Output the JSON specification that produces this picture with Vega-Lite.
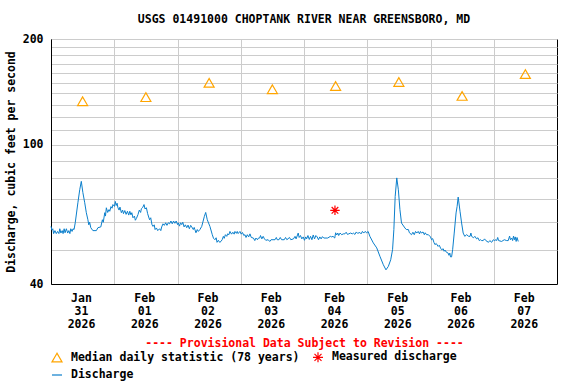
{
  "$schema": "https://vega.github.io/schema/vega-lite/v6.json",
  "width": 506,
  "height": 245,
  "autosize": "none",
  "padding": {"left": 51, "top": 39, "right": 19, "bottom": 100},
  "background": "white",
  "config": {
    "font": "DejaVu Sans Mono",
    "view": {"stroke": "black", "strokeWidth": 1}
  },
  "title": {
    "text": "USGS 01491000 CHOPTANK RIVER NEAR GREENSBORO, MD",
    "anchor": "middle",
    "fontSize": 11.5,
    "fontWeight": "bold",
    "font": "DejaVu Sans Mono",
    "color": "black",
    "offset": 8
  },
  "datasets": {
    "discharge": [
      {"t": "2026-01-31T00:00", "q": 58.4},
      {"t": "2026-01-31T00:20", "q": 57.0},
      {"t": "2026-01-31T00:40", "q": 57.5},
      {"t": "2026-01-31T01:00", "q": 55.7},
      {"t": "2026-01-31T01:30", "q": 56.8},
      {"t": "2026-01-31T02:00", "q": 55.7},
      {"t": "2026-01-31T02:30", "q": 56.5},
      {"t": "2026-01-31T03:00", "q": 55.7},
      {"t": "2026-01-31T03:20", "q": 57.5},
      {"t": "2026-01-31T03:45", "q": 55.9},
      {"t": "2026-01-31T04:15", "q": 56.8},
      {"t": "2026-01-31T04:35", "q": 55.7},
      {"t": "2026-01-31T05:00", "q": 57.5},
      {"t": "2026-01-31T05:20", "q": 56.0},
      {"t": "2026-01-31T05:50", "q": 57.5},
      {"t": "2026-01-31T06:20", "q": 55.9},
      {"t": "2026-01-31T06:45", "q": 56.8},
      {"t": "2026-01-31T07:10", "q": 55.7},
      {"t": "2026-01-31T07:30", "q": 57.5},
      {"t": "2026-01-31T08:00", "q": 56.5},
      {"t": "2026-01-31T08:21", "q": 57.5},
      {"t": "2026-01-31T08:45", "q": 57.2},
      {"t": "2026-01-31T09:12", "q": 59.8},
      {"t": "2026-01-31T10:12", "q": 68.2},
      {"t": "2026-01-31T10:54", "q": 74.3},
      {"t": "2026-01-31T11:30", "q": 78.5},
      {"t": "2026-01-31T12:06", "q": 72.9},
      {"t": "2026-01-31T12:48", "q": 68.2},
      {"t": "2026-01-31T13:24", "q": 63.9},
      {"t": "2026-01-31T14:00", "q": 61.0},
      {"t": "2026-01-31T14:20", "q": 59.0},
      {"t": "2026-01-31T14:40", "q": 60.0},
      {"t": "2026-01-31T15:06", "q": 57.9},
      {"t": "2026-01-31T15:54", "q": 56.8},
      {"t": "2026-01-31T17:12", "q": 56.8},
      {"t": "2026-01-31T17:48", "q": 57.9},
      {"t": "2026-01-31T18:54", "q": 58.2},
      {"t": "2026-01-31T19:30", "q": 61.0},
      {"t": "2026-01-31T19:50", "q": 60.0},
      {"t": "2026-01-31T20:24", "q": 63.9},
      {"t": "2026-01-31T20:40", "q": 62.5},
      {"t": "2026-01-31T21:00", "q": 66.0},
      {"t": "2026-01-31T21:30", "q": 64.0},
      {"t": "2026-01-31T22:00", "q": 65.2},
      {"t": "2026-01-31T22:18", "q": 64.5},
      {"t": "2026-01-31T22:45", "q": 66.5},
      {"t": "2026-01-31T23:10", "q": 65.8},
      {"t": "2026-01-31T23:30", "q": 67.4},
      {"t": "2026-02-01T00:05", "q": 66.6},
      {"t": "2026-02-01T00:24", "q": 68.8},
      {"t": "2026-02-01T00:45", "q": 67.0},
      {"t": "2026-02-01T01:05", "q": 68.0},
      {"t": "2026-02-01T01:24", "q": 66.0},
      {"t": "2026-02-01T01:50", "q": 65.0},
      {"t": "2026-02-01T02:10", "q": 66.3},
      {"t": "2026-02-01T02:42", "q": 63.9},
      {"t": "2026-02-01T03:10", "q": 65.0},
      {"t": "2026-02-01T03:30", "q": 63.5},
      {"t": "2026-02-01T04:00", "q": 64.8},
      {"t": "2026-02-01T04:30", "q": 63.2},
      {"t": "2026-02-01T05:00", "q": 64.5},
      {"t": "2026-02-01T05:30", "q": 62.9},
      {"t": "2026-02-01T05:54", "q": 64.5},
      {"t": "2026-02-01T06:20", "q": 63.0},
      {"t": "2026-02-01T06:40", "q": 63.9},
      {"t": "2026-02-01T07:06", "q": 61.8},
      {"t": "2026-02-01T07:40", "q": 62.5},
      {"t": "2026-02-01T08:00", "q": 60.8},
      {"t": "2026-02-01T08:24", "q": 61.5},
      {"t": "2026-02-01T09:00", "q": 63.1},
      {"t": "2026-02-01T09:30", "q": 65.0},
      {"t": "2026-02-01T10:00", "q": 64.0},
      {"t": "2026-02-01T10:18", "q": 65.6},
      {"t": "2026-02-01T10:50", "q": 66.2},
      {"t": "2026-02-01T11:18", "q": 67.4},
      {"t": "2026-02-01T11:40", "q": 65.5},
      {"t": "2026-02-01T12:12", "q": 66.0},
      {"t": "2026-02-01T12:40", "q": 63.5},
      {"t": "2026-02-01T13:24", "q": 61.0},
      {"t": "2026-02-01T13:50", "q": 61.8},
      {"t": "2026-02-01T14:20", "q": 59.0},
      {"t": "2026-02-01T14:42", "q": 58.4},
      {"t": "2026-02-01T15:10", "q": 59.0},
      {"t": "2026-02-01T15:30", "q": 57.2},
      {"t": "2026-02-01T16:00", "q": 57.8},
      {"t": "2026-02-01T16:30", "q": 56.8},
      {"t": "2026-02-01T17:12", "q": 57.5},
      {"t": "2026-02-01T17:40", "q": 56.8},
      {"t": "2026-02-01T18:00", "q": 58.2},
      {"t": "2026-02-01T18:30", "q": 59.4},
      {"t": "2026-02-01T19:00", "q": 58.8},
      {"t": "2026-02-01T19:30", "q": 59.8},
      {"t": "2026-02-01T20:00", "q": 58.8},
      {"t": "2026-02-01T20:30", "q": 59.8},
      {"t": "2026-02-01T21:00", "q": 59.4},
      {"t": "2026-02-01T21:30", "q": 60.5},
      {"t": "2026-02-01T22:00", "q": 59.4},
      {"t": "2026-02-01T22:30", "q": 60.5},
      {"t": "2026-02-01T23:00", "q": 59.6},
      {"t": "2026-02-01T23:30", "q": 60.5},
      {"t": "2026-02-02T00:00", "q": 59.1},
      {"t": "2026-02-02T00:18", "q": 59.8},
      {"t": "2026-02-02T00:45", "q": 58.5},
      {"t": "2026-02-02T01:10", "q": 59.8},
      {"t": "2026-02-02T01:36", "q": 59.1},
      {"t": "2026-02-02T02:00", "q": 60.0},
      {"t": "2026-02-02T02:30", "q": 58.2},
      {"t": "2026-02-02T03:00", "q": 59.0},
      {"t": "2026-02-02T03:30", "q": 57.9},
      {"t": "2026-02-02T04:00", "q": 58.9},
      {"t": "2026-02-02T04:30", "q": 57.5},
      {"t": "2026-02-02T05:00", "q": 58.8},
      {"t": "2026-02-02T05:24", "q": 58.2},
      {"t": "2026-02-02T06:00", "q": 57.2},
      {"t": "2026-02-02T06:20", "q": 58.0},
      {"t": "2026-02-02T06:36", "q": 57.2},
      {"t": "2026-02-02T07:00", "q": 56.0},
      {"t": "2026-02-02T07:30", "q": 57.2},
      {"t": "2026-02-02T07:54", "q": 56.5},
      {"t": "2026-02-02T08:30", "q": 57.2},
      {"t": "2026-02-02T09:12", "q": 58.4},
      {"t": "2026-02-02T10:12", "q": 62.4},
      {"t": "2026-02-02T10:42", "q": 64.0},
      {"t": "2026-02-02T11:18", "q": 61.0},
      {"t": "2026-02-02T12:18", "q": 58.4},
      {"t": "2026-02-02T13:12", "q": 55.3},
      {"t": "2026-02-02T13:40", "q": 54.0},
      {"t": "2026-02-02T14:12", "q": 53.5},
      {"t": "2026-02-02T14:40", "q": 54.2},
      {"t": "2026-02-02T15:00", "q": 52.6},
      {"t": "2026-02-02T15:30", "q": 53.3},
      {"t": "2026-02-02T16:00", "q": 52.6},
      {"t": "2026-02-02T16:30", "q": 52.9},
      {"t": "2026-02-02T17:00", "q": 53.6},
      {"t": "2026-02-02T17:24", "q": 54.7},
      {"t": "2026-02-02T17:45", "q": 54.0},
      {"t": "2026-02-02T18:10", "q": 55.3},
      {"t": "2026-02-02T18:42", "q": 54.7},
      {"t": "2026-02-02T19:00", "q": 55.6},
      {"t": "2026-02-02T19:30", "q": 55.3},
      {"t": "2026-02-02T19:54", "q": 56.5},
      {"t": "2026-02-02T20:30", "q": 55.5},
      {"t": "2026-02-02T21:00", "q": 56.2},
      {"t": "2026-02-02T21:30", "q": 55.5},
      {"t": "2026-02-02T21:48", "q": 56.5},
      {"t": "2026-02-02T22:20", "q": 55.8},
      {"t": "2026-02-02T22:40", "q": 56.5},
      {"t": "2026-02-02T23:00", "q": 55.7},
      {"t": "2026-02-02T23:42", "q": 56.5},
      {"t": "2026-02-03T00:10", "q": 55.5},
      {"t": "2026-02-03T00:40", "q": 56.1},
      {"t": "2026-02-03T01:10", "q": 55.0},
      {"t": "2026-02-03T01:36", "q": 55.3},
      {"t": "2026-02-03T02:00", "q": 54.3},
      {"t": "2026-02-03T02:30", "q": 55.3},
      {"t": "2026-02-03T03:00", "q": 54.5},
      {"t": "2026-02-03T03:30", "q": 55.6},
      {"t": "2026-02-03T04:00", "q": 54.3},
      {"t": "2026-02-03T04:48", "q": 54.1},
      {"t": "2026-02-03T05:20", "q": 53.2},
      {"t": "2026-02-03T05:45", "q": 54.1},
      {"t": "2026-02-03T06:20", "q": 53.5},
      {"t": "2026-02-03T06:42", "q": 54.1},
      {"t": "2026-02-03T07:10", "q": 54.1},
      {"t": "2026-02-03T07:30", "q": 55.0},
      {"t": "2026-02-03T08:00", "q": 53.8},
      {"t": "2026-02-03T08:30", "q": 54.7},
      {"t": "2026-02-03T09:00", "q": 53.8},
      {"t": "2026-02-03T09:30", "q": 53.3},
      {"t": "2026-02-03T10:24", "q": 53.5},
      {"t": "2026-02-03T11:00", "q": 52.9},
      {"t": "2026-02-03T11:30", "q": 53.5},
      {"t": "2026-02-03T13:00", "q": 53.5},
      {"t": "2026-02-03T13:30", "q": 54.3},
      {"t": "2026-02-03T13:50", "q": 53.5},
      {"t": "2026-02-03T14:30", "q": 53.5},
      {"t": "2026-02-03T15:00", "q": 54.3},
      {"t": "2026-02-03T15:30", "q": 53.5},
      {"t": "2026-02-03T16:30", "q": 53.5},
      {"t": "2026-02-03T17:00", "q": 54.3},
      {"t": "2026-02-03T17:30", "q": 53.5},
      {"t": "2026-02-03T18:30", "q": 54.3},
      {"t": "2026-02-03T19:00", "q": 53.5},
      {"t": "2026-02-03T20:00", "q": 53.8},
      {"t": "2026-02-03T20:36", "q": 54.7},
      {"t": "2026-02-03T21:00", "q": 53.8},
      {"t": "2026-02-03T21:48", "q": 55.9},
      {"t": "2026-02-03T22:10", "q": 54.3},
      {"t": "2026-02-03T22:40", "q": 55.0},
      {"t": "2026-02-03T23:10", "q": 53.8},
      {"t": "2026-02-03T23:42", "q": 54.5},
      {"t": "2026-02-04T00:10", "q": 53.3},
      {"t": "2026-02-04T00:40", "q": 54.5},
      {"t": "2026-02-04T01:00", "q": 53.8},
      {"t": "2026-02-04T01:30", "q": 55.0},
      {"t": "2026-02-04T02:00", "q": 53.6},
      {"t": "2026-02-04T02:30", "q": 54.7},
      {"t": "2026-02-04T03:00", "q": 53.5},
      {"t": "2026-02-04T03:30", "q": 55.2},
      {"t": "2026-02-04T04:00", "q": 53.8},
      {"t": "2026-02-04T04:30", "q": 55.0},
      {"t": "2026-02-04T05:00", "q": 54.5},
      {"t": "2026-02-04T05:30", "q": 53.5},
      {"t": "2026-02-04T06:00", "q": 54.5},
      {"t": "2026-02-04T06:30", "q": 53.8},
      {"t": "2026-02-04T07:00", "q": 54.6},
      {"t": "2026-02-04T07:30", "q": 54.1},
      {"t": "2026-02-04T09:00", "q": 54.1},
      {"t": "2026-02-04T10:00", "q": 54.7},
      {"t": "2026-02-04T10:30", "q": 54.5},
      {"t": "2026-02-04T11:00", "q": 54.7},
      {"t": "2026-02-04T11:40", "q": 54.1},
      {"t": "2026-02-04T12:00", "q": 56.0},
      {"t": "2026-02-04T12:24", "q": 55.2},
      {"t": "2026-02-04T12:50", "q": 55.9},
      {"t": "2026-02-04T13:10", "q": 55.0},
      {"t": "2026-02-04T13:40", "q": 55.9},
      {"t": "2026-02-04T14:20", "q": 55.3},
      {"t": "2026-02-04T14:54", "q": 55.6},
      {"t": "2026-02-04T15:30", "q": 55.6},
      {"t": "2026-02-04T16:00", "q": 56.2},
      {"t": "2026-02-04T16:30", "q": 55.4},
      {"t": "2026-02-04T17:00", "q": 55.6},
      {"t": "2026-02-04T17:40", "q": 55.9},
      {"t": "2026-02-04T18:20", "q": 55.6},
      {"t": "2026-02-04T18:42", "q": 55.9},
      {"t": "2026-02-04T19:20", "q": 55.4},
      {"t": "2026-02-04T19:50", "q": 56.3},
      {"t": "2026-02-04T20:20", "q": 55.8},
      {"t": "2026-02-04T21:12", "q": 56.1},
      {"t": "2026-02-04T21:40", "q": 55.6},
      {"t": "2026-02-04T22:10", "q": 56.5},
      {"t": "2026-02-04T22:40", "q": 55.9},
      {"t": "2026-02-04T23:10", "q": 56.5},
      {"t": "2026-02-04T23:48", "q": 56.0},
      {"t": "2026-02-05T00:20", "q": 56.5},
      {"t": "2026-02-05T01:00", "q": 54.7},
      {"t": "2026-02-05T02:18", "q": 52.4},
      {"t": "2026-02-05T03:36", "q": 50.7},
      {"t": "2026-02-05T04:48", "q": 48.0},
      {"t": "2026-02-05T06:06", "q": 45.4},
      {"t": "2026-02-05T07:06", "q": 43.9},
      {"t": "2026-02-05T08:00", "q": 44.9},
      {"t": "2026-02-05T08:54", "q": 46.9},
      {"t": "2026-02-05T09:36", "q": 50.1},
      {"t": "2026-02-05T10:06", "q": 57.2},
      {"t": "2026-02-05T10:36", "q": 71.1},
      {"t": "2026-02-05T11:12", "q": 80.3},
      {"t": "2026-02-05T11:48", "q": 74.3},
      {"t": "2026-02-05T12:24", "q": 65.2},
      {"t": "2026-02-05T13:00", "q": 59.7},
      {"t": "2026-02-05T14:18", "q": 57.8},
      {"t": "2026-02-05T14:50", "q": 57.2},
      {"t": "2026-02-05T15:36", "q": 57.2},
      {"t": "2026-02-05T16:00", "q": 56.0},
      {"t": "2026-02-05T16:48", "q": 55.3},
      {"t": "2026-02-05T17:20", "q": 56.2},
      {"t": "2026-02-05T17:50", "q": 55.3},
      {"t": "2026-02-05T18:20", "q": 56.5},
      {"t": "2026-02-05T18:48", "q": 55.9},
      {"t": "2026-02-05T19:20", "q": 56.5},
      {"t": "2026-02-05T19:50", "q": 55.6},
      {"t": "2026-02-05T20:10", "q": 56.5},
      {"t": "2026-02-05T20:36", "q": 55.9},
      {"t": "2026-02-05T21:10", "q": 56.3},
      {"t": "2026-02-05T21:40", "q": 55.3},
      {"t": "2026-02-05T22:00", "q": 56.0},
      {"t": "2026-02-05T22:30", "q": 55.3},
      {"t": "2026-02-05T23:12", "q": 55.3},
      {"t": "2026-02-06T00:00", "q": 54.5},
      {"t": "2026-02-06T00:24", "q": 53.5},
      {"t": "2026-02-06T00:50", "q": 53.9},
      {"t": "2026-02-06T01:20", "q": 52.5},
      {"t": "2026-02-06T01:42", "q": 51.8},
      {"t": "2026-02-06T02:10", "q": 52.2},
      {"t": "2026-02-06T02:54", "q": 51.2},
      {"t": "2026-02-06T03:20", "q": 51.6},
      {"t": "2026-02-06T03:50", "q": 50.6},
      {"t": "2026-02-06T04:12", "q": 50.1},
      {"t": "2026-02-06T04:50", "q": 50.4},
      {"t": "2026-02-06T05:10", "q": 49.6},
      {"t": "2026-02-06T05:30", "q": 50.0},
      {"t": "2026-02-06T06:00", "q": 49.3},
      {"t": "2026-02-06T06:42", "q": 49.0},
      {"t": "2026-02-06T07:00", "q": 48.3},
      {"t": "2026-02-06T07:20", "q": 49.0},
      {"t": "2026-02-06T07:36", "q": 47.8},
      {"t": "2026-02-06T08:00", "q": 47.8},
      {"t": "2026-02-06T08:24", "q": 50.1},
      {"t": "2026-02-06T09:00", "q": 55.9},
      {"t": "2026-02-06T09:42", "q": 63.8},
      {"t": "2026-02-06T10:06", "q": 66.6},
      {"t": "2026-02-06T10:30", "q": 70.8},
      {"t": "2026-02-06T11:12", "q": 64.5},
      {"t": "2026-02-06T11:48", "q": 59.7},
      {"t": "2026-02-06T12:24", "q": 55.9},
      {"t": "2026-02-06T13:00", "q": 54.7},
      {"t": "2026-02-06T13:42", "q": 55.3},
      {"t": "2026-02-06T14:30", "q": 54.7},
      {"t": "2026-02-06T15:00", "q": 54.7},
      {"t": "2026-02-06T15:20", "q": 55.9},
      {"t": "2026-02-06T15:36", "q": 54.7},
      {"t": "2026-02-06T16:20", "q": 54.2},
      {"t": "2026-02-06T16:50", "q": 54.7},
      {"t": "2026-02-06T17:30", "q": 53.8},
      {"t": "2026-02-06T18:00", "q": 54.2},
      {"t": "2026-02-06T18:30", "q": 53.2},
      {"t": "2026-02-06T19:00", "q": 53.5},
      {"t": "2026-02-06T19:24", "q": 53.2},
      {"t": "2026-02-06T20:00", "q": 53.2},
      {"t": "2026-02-06T20:30", "q": 53.8},
      {"t": "2026-02-06T21:00", "q": 53.2},
      {"t": "2026-02-06T22:00", "q": 52.6},
      {"t": "2026-02-06T22:30", "q": 53.2},
      {"t": "2026-02-06T23:12", "q": 52.6},
      {"t": "2026-02-06T23:50", "q": 53.5},
      {"t": "2026-02-07T00:20", "q": 53.2},
      {"t": "2026-02-07T00:50", "q": 53.5},
      {"t": "2026-02-07T01:06", "q": 53.2},
      {"t": "2026-02-07T01:30", "q": 54.3},
      {"t": "2026-02-07T01:50", "q": 53.2},
      {"t": "2026-02-07T03:00", "q": 52.9},
      {"t": "2026-02-07T03:30", "q": 53.2},
      {"t": "2026-02-07T04:00", "q": 53.5},
      {"t": "2026-02-07T04:54", "q": 53.2},
      {"t": "2026-02-07T05:30", "q": 53.2},
      {"t": "2026-02-07T06:00", "q": 54.8},
      {"t": "2026-02-07T06:20", "q": 53.5},
      {"t": "2026-02-07T06:48", "q": 54.1},
      {"t": "2026-02-07T07:10", "q": 53.2},
      {"t": "2026-02-07T07:30", "q": 54.8},
      {"t": "2026-02-07T07:50", "q": 53.5},
      {"t": "2026-02-07T08:10", "q": 54.5},
      {"t": "2026-02-07T08:30", "q": 52.9},
      {"t": "2026-02-07T08:50", "q": 54.3},
      {"t": "2026-02-07T09:18", "q": 52.9}
    ],
    "median": [
      {"t": "2026-01-31T12:00", "q": 132.9},
      {"t": "2026-02-01T12:00", "q": 136.5},
      {"t": "2026-02-02T12:00", "q": 149.9},
      {"t": "2026-02-03T12:00", "q": 143.8},
      {"t": "2026-02-04T12:00", "q": 146.9},
      {"t": "2026-02-05T12:00", "q": 150.8},
      {"t": "2026-02-06T12:00", "q": 137.6},
      {"t": "2026-02-07T12:00", "q": 158.8}
    ],
    "measured": [
      {"t": "2026-02-04T11:45", "q": 64.9}
    ]
  },
  "encoding": {
    "x": {
      "field": "t",
      "type": "temporal",
      "scale": {
        "domain": [
          {"year": 2026, "month": 1, "date": 31},
          {"year": 2026, "month": 2, "date": 8}
        ],
        "nice": false
      },
      "axis": {
        "title": "---- Provisional Data Subject to Revision ----",
        "titleColor": "#ff0000",
        "titleFont": "DejaVu Sans Mono",
        "titleFontSize": 11.5,
        "titleFontWeight": "bold",
        "titlePadding": 8,
        "values": [
          {"year": 2026, "month": 1, "date": 31},
          {"year": 2026, "month": 2, "date": 1},
          {"year": 2026, "month": 2, "date": 2},
          {"year": 2026, "month": 2, "date": 3},
          {"year": 2026, "month": 2, "date": 4},
          {"year": 2026, "month": 2, "date": 5},
          {"year": 2026, "month": 2, "date": 6},
          {"year": 2026, "month": 2, "date": 7}
        ],
        "labelExpr": "[timeFormat(datum.value, '%b'), timeFormat(datum.value, '%d'), timeFormat(datum.value, '%Y')]",
        "labelOffset": 30,
        "labelFlush": false,
        "labelOverlap": false,
        "labelBound": false,
        "labelFont": "DejaVu Sans Mono",
        "labelFontSize": 11.5,
        "labelFontWeight": "bold",
        "labelColor": "black",
        "labelLineHeight": 13,
        "labelPadding": 8,
        "ticks": false,
        "grid": true,
        "gridColor": "#cccccc",
        "gridWidth": 1,
        "domainColor": "black",
        "domainWidth": 1
      }
    },
    "y": {
      "field": "q",
      "type": "quantitative",
      "scale": {"type": "log", "domain": [40, 200], "nice": false},
      "axis": {
        "title": "Discharge, cubic feet per second",
        "titleFont": "DejaVu Sans Mono",
        "titleFontSize": 11.5,
        "titleFontWeight": "bold",
        "titleColor": "black",
        "titlePadding": 6,
        "values": [40, 50, 60, 70, 80, 90, 100, 110, 120, 130, 140, 150, 160, 170, 180, 190, 200],
        "labelExpr": "(datum.value == 40 || datum.value == 100 || datum.value == 200) ? format(datum.value, 'd') : ''",
        "labelFont": "DejaVu Sans Mono",
        "labelFontSize": 11.5,
        "labelFontWeight": "bold",
        "labelColor": "black",
        "labelPadding": 8,
        "labelOverlap": false,
        "ticks": false,
        "grid": true,
        "gridColor": "#cccccc",
        "gridWidth": 1,
        "domainColor": "black",
        "domainWidth": 1
      }
    }
  },
  "layer": [
    {
      "data": {"name": "discharge"},
      "mark": {"type": "line", "strokeWidth": 1, "interpolate": "linear"},
      "encoding": {
        "color": {
          "datum": "Discharge",
          "scale": {
            "domain": ["Median daily statistic (78 years)", "Measured discharge", "Discharge"],
            "range": ["#ffa500", "#ff0000", "#0b7fcc"]
          },
          "legend": {
            "title": null,
            "orient": "none",
            "legendX": 0,
            "legendY": 312,
            "direction": "horizontal",
            "columns": 2,
            "columnPadding": 10,
            "rowPadding": 4,
            "padding": 0,
            "symbolSize": 100,
            "symbolStrokeWidth": 1.2,
            "labelOffset": 8,
            "labelFont": "DejaVu Sans Mono",
            "labelFontSize": 11.5,
            "labelFontWeight": "bold",
            "labelColor": "black",
            "labelLimit": 400
          }
        }
      }
    },
    {
      "data": {"name": "median"},
      "mark": {"type": "point", "filled": false, "size": 100, "strokeWidth": 1.2, "opacity": 1},
      "encoding": {
        "color": {"datum": "Median daily statistic (78 years)"},
        "shape": {
          "datum": "Median daily statistic (78 years)",
          "scale": {
            "domain": ["Median daily statistic (78 years)", "Measured discharge", "Discharge"],
            "range": ["triangle-up", "M0,-1L0,1M-1,0L1,0M-0.7,-0.7L0.7,0.7M-0.7,0.7L0.7,-0.7", "stroke"]
          }
        }
      }
    },
    {
      "data": {"name": "measured"},
      "mark": {"type": "point", "filled": false, "size": 90, "strokeWidth": 1.2, "opacity": 1},
      "encoding": {
        "color": {"datum": "Measured discharge"},
        "shape": {"datum": "Measured discharge"}
      }
    }
  ]
}
